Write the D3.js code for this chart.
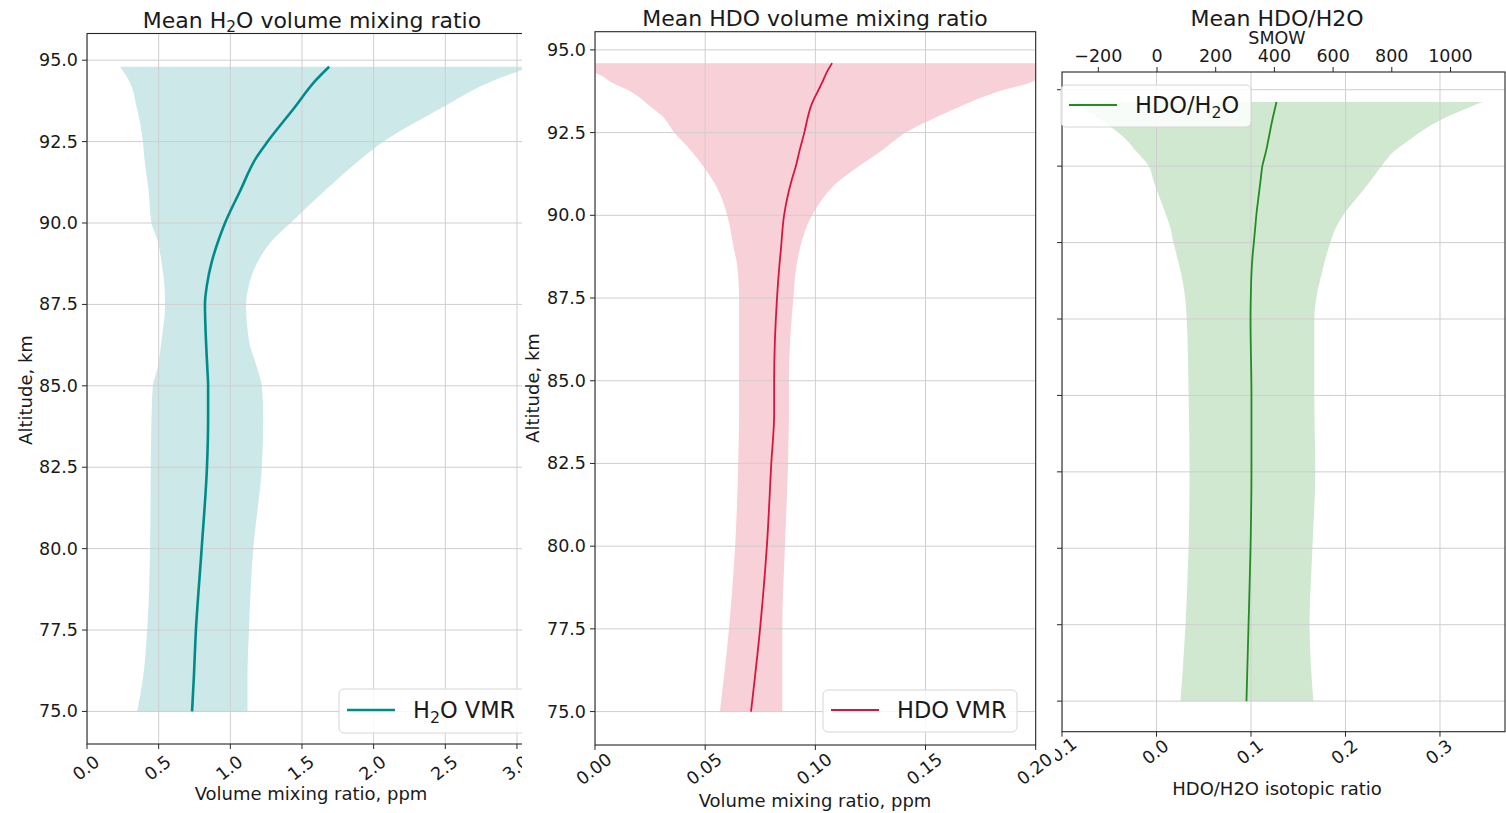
<!DOCTYPE html>
<html><head><meta charset="utf-8">
<script src="https://cdn.jsdelivr.net/npm/d3@7/dist/d3.min.js"></script>
<style>body{margin:0;background:#fff;} svg{display:block;font-family:"DejaVu Sans",sans-serif;}</style>
</head><body>
<svg id="c" width="1506" height="813"></svg>
<script>
// ---------------- DATA ----------------
const altTicks = [75.0, 77.5, 80.0, 82.5, 85.0, 87.5, 90.0, 92.5, 95.0];

// Panel 1: H2O VMR (ppm)
const h2oAlt   = [75, 76, 77.5, 80, 82.5, 84, 85, 85.5, 86.4, 87.5, 88.1, 88.8, 89.5, 90, 91, 92, 92.5, 93.5, 94.4, 94.8];
const h2oMean  = [0.733, 0.745, 0.76, 0.80, 0.837, 0.845, 0.845, 0.84, 0.83, 0.823, 0.837, 0.87, 0.92, 0.963, 1.07, 1.18, 1.26, 1.44, 1.60, 1.69];
const h2oLow   = [0.35, 0.39, 0.42, 0.44, 0.445, 0.45, 0.46, 0.49, 0.52, 0.545, 0.54, 0.52, 0.49, 0.45, 0.43, 0.40, 0.39, 0.35, 0.29, 0.23];
const h2oHigh  = [1.12, 1.12, 1.13, 1.16, 1.22, 1.23, 1.22, 1.19, 1.13, 1.11, 1.13, 1.19, 1.30, 1.42, 1.66, 1.92, 2.07, 2.46, 2.85, 3.10];
const h2oXTicks = [0.0, 0.5, 1.0, 1.5, 2.0, 2.5, 3.0];

// Panel 2: HDO VMR (ppm)
const hdoAlt   = [75, 77.5, 80, 82.5, 84, 85, 87.5, 88.5, 89, 90, 90.6, 91, 91.5, 92, 92.5, 93, 93.3, 93.8, 94, 94.3, 94.6];
const hdoMean  = [0.0708, 0.0749, 0.078, 0.080, 0.0813, 0.0813, 0.0826, 0.0837, 0.0844, 0.0858, 0.0875, 0.089, 0.0912, 0.093, 0.095, 0.0967, 0.098, 0.1015, 0.103, 0.105, 0.1076];
const hdoLow   = [0.0567, 0.0608, 0.0636, 0.065, 0.0654, 0.0654, 0.0654, 0.0645, 0.063, 0.060, 0.057, 0.054, 0.049, 0.043, 0.036, 0.0305, 0.025, 0.0145, 0.008, 0.0, -0.02];
const hdoHigh  = [0.085, 0.085, 0.0862, 0.0876, 0.088, 0.088, 0.090, 0.0915, 0.093, 0.0985, 0.1044, 0.110, 0.120, 0.131, 0.141, 0.156, 0.166, 0.186, 0.197, 0.205, 0.21];
const hdoXTicks = [0.00, 0.05, 0.10, 0.15, 0.20];

// Panel 3: HDO/H2O isotopic ratio
const ratAlt   = [75, 77.5, 80, 82.5, 85, 87.5, 88.5, 89, 89.5, 90, 90.5, 91, 91.5, 92, 92.5, 93, 93.3, 94, 94.6];
const ratMean  = [0.0952, 0.0974, 0.0995, 0.1005, 0.1005, 0.0995, 0.100, 0.1005, 0.1015, 0.103, 0.1045, 0.106, 0.108, 0.110, 0.112, 0.116, 0.118, 0.1225, 0.127];
const ratLow   = [0.0254, 0.0307, 0.0339, 0.035, 0.034, 0.032, 0.029, 0.026, 0.022, 0.018, 0.0145, 0.009, 0.003, -0.003, -0.008, -0.022, -0.030, -0.058, -0.089];
const ratHigh  = [0.166, 0.162, 0.165, 0.168, 0.167, 0.167, 0.171, 0.175, 0.179, 0.184, 0.190, 0.200, 0.213, 0.226, 0.238, 0.252, 0.265, 0.300, 0.345];
const ratXTicks = [-0.1, 0.0, 0.1, 0.2, 0.3];
const smowTicks = [-200, 0, 200, 400, 600, 800, 1000];

// ---------------- DRAW ----------------
const svg = d3.select("#c");
const GRID = "#cfcfcf", AX = "#262626";

// grey corner artefact
svg.append("polygon").attr("points","0,0 90,0 85,6 14,6 14,77 0,100").attr("fill","#dcdcdc");

function subText(sel, parts, size) {
  // parts: array of [text, isSub]
  parts.forEach(([t, sub], i) => {
    const ts = sel.append("tspan").text(t);
    if (sub) ts.attr("font-size", size*0.7).attr("dy", size*0.2);
    else if (i > 0 && parts[i-1][1]) ts.attr("dy", -size*0.2);
  });
}

function panel(o) {
  const defs = svg.append("defs");
  defs.append("clipPath").attr("id", o.id+"clip").append("rect")
    .attr("x", o.clip[0]).attr("y", 0).attr("width", o.clip[1]-o.clip[0]).attr("height", 813);
  defs.append("clipPath").attr("id", o.id+"plot").append("rect")
    .attr("x", o.x0).attr("y", o.y0).attr("width", o.x1-o.x0).attr("height", o.y1-o.y0);
  const g = svg.append("g").attr("clip-path", `url(#${o.id}clip)`);
  g.append("rect").attr("x", o.clip[0]).attr("y", 0).attr("width", o.clip[1]-o.clip[0]).attr("height", 813).attr("fill", "#fff");

  const x = d3.scaleLinear().domain(o.xdom).range([o.x0, o.x1]);
  const y = d3.scaleLinear().domain(o.ydom).range([o.y1, o.y0]);
  const pg = g.append("g").attr("clip-path", `url(#${o.id}plot)`);

  const idx = d3.range(o.alt.length);
  pg.append("path").datum(idx)
    .attr("d", d3.area().curve(d3.curveMonotoneY).y(i => y(o.alt[i])).x0(i => x(o.low[i])).x1(i => x(o.high[i])))
    .attr("fill", o.fill);

  // grid
  o.xticks.forEach(t => pg.append("line").attr("x1", x(t)).attr("x2", x(t)).attr("y1", o.y0).attr("y2", o.y1)
    .attr("stroke", GRID).attr("stroke-width", 1));
  o.yticks.forEach(t => pg.append("line").attr("x1", o.x0).attr("x2", o.x1).attr("y1", y(t)).attr("y2", y(t))
    .attr("stroke", GRID).attr("stroke-width", 1));

  pg.append("path").datum(idx)
    .attr("d", d3.line().curve(d3.curveMonotoneY).y(i => y(o.alt[i])).x(i => x(o.mean[i])))
    .attr("fill", "none").attr("stroke", o.color).attr("stroke-width", o.lw);

  // spines
  g.append("rect").attr("x", o.x0).attr("y", o.y0).attr("width", o.x1-o.x0).attr("height", o.y1-o.y0)
    .attr("fill", "none").attr("stroke", AX).attr("stroke-width", 1.1);

  // x axis ticks + labels
  o.xticks.forEach(t => {
    const xx = x(t);
    g.append("line").attr("x1", xx).attr("x2", xx).attr("y1", o.y1).attr("y2", o.y1+5).attr("stroke", AX);
    g.append("text").attr("x", xx-1).attr("y", o.xlabY).attr("text-anchor", "middle").attr("dominant-baseline","central")
      .attr("font-size", 17.5).attr("fill", "#1a1a1a")
      .attr("transform", `rotate(-38 ${xx-1} ${o.xlabY})`).text(o.xfmt(t));
  });
  // y ticks
  o.yticks.forEach(t => {
    g.append("line").attr("x1", o.x0-5).attr("x2", o.x0).attr("y1", y(t)).attr("y2", y(t)).attr("stroke", AX);
    if (o.ylabels) g.append("text").attr("x", o.x0-9).attr("y", y(t)).attr("text-anchor", "end").attr("dominant-baseline","central")
      .attr("font-size", 17.5).attr("fill", "#1a1a1a").text(t.toFixed(1));
  });
  // axis titles
  g.append("text").attr("x", o.xtitle[0]).attr("y", o.xtitle[1]).attr("text-anchor","middle").attr("dominant-baseline","central")
    .attr("font-size", 18).attr("fill", "#1a1a1a").text(o.xtitleText);
  if (o.ytitle) g.append("text").attr("transform", `translate(${o.ytitle[0]},${o.ytitle[1]}) rotate(-90)`)
    .attr("text-anchor","middle").attr("dominant-baseline","central").attr("font-size", 18).attr("fill", "#1a1a1a").text("Altitude, km");
  // title
  const tt = g.append("text").attr("x", o.title[0]).attr("y", o.title[1]).attr("text-anchor","middle")
    .attr("font-size", 22).attr("fill", "#1a1a1a");
  subText(tt, o.titleParts, 22);

  // legend
  const L = o.legend;
  g.append("rect").attr("x", L.x).attr("y", L.y).attr("width", L.w).attr("height", L.h).attr("rx", 5)
    .attr("fill", "#fff").attr("fill-opacity", 0.85).attr("stroke", "#d6d6d6");
  g.append("line").attr("x1", L.x+8).attr("x2", L.x+56).attr("y1", L.y+L.h/2-1).attr("y2", L.y+L.h/2-1)
    .attr("stroke", o.color).attr("stroke-width", o.lw);
  const lt = g.append("text").attr("x", L.x+74).attr("y", L.y+L.h/2+7).attr("font-size", 22.5).attr("fill", "#1a1a1a");
  subText(lt, L.parts, 22.5);
  return {g, x, y};
}

panel({
  id: "p1", clip: [0, 522], x0: 87, x1: 531, y0: 33.5, y1: 744,
  xdom: [0, 3.098], ydom: [74.0, 95.82],
  alt: h2oAlt, mean: h2oMean, low: h2oLow, high: h2oHigh,
  color: "#008b8b", fill: "#cce8e8", lw: 2.6,
  xticks: h2oXTicks, yticks: altTicks, ylabels: true, xfmt: d => d.toFixed(1), xlabY: 768,
  xtitle: [311, 793], xtitleText: "Volume mixing ratio, ppm", ytitle: [25, 390],
  title: [312, 28], titleParts: [["Mean H",false],["2",true],["O volume mixing ratio",false]],
  legend: {x: 339, y: 689, w: 200, h: 44, parts: [["H",false],["2",true],["O VMR",false]]}
});

panel({
  id: "p2", clip: [522, 1055], x0: 595, x1: 1035.7, y0: 31.7, y1: 745,
  xdom: [0, 0.2], ydom: [73.99, 95.55],
  alt: hdoAlt, mean: hdoMean, low: hdoLow, high: hdoHigh,
  color: "#dc143c", fill: "#f7d0d8", lw: 1.8,
  xticks: hdoXTicks, yticks: altTicks, ylabels: true, xfmt: d => d.toFixed(2), xlabY: 769,
  xtitle: [815, 800], xtitleText: "Volume mixing ratio, ppm", ytitle: [532, 388],
  title: [815, 26], titleParts: [["Mean HDO volume mixing ratio",false]],
  legend: {x: 823, y: 690, w: 194, h: 42, parts: [["HDO VMR",false]]}
});

const p3 = panel({
  id: "p3", clip: [1055, 1506], x0: 1062, x1: 1505, y0: 72, y1: 731.7,
  xdom: [-0.1, 0.3688], ydom: [74.0, 95.58],
  alt: ratAlt, mean: ratMean, low: ratLow, high: ratHigh,
  color: "#228b22", fill: "#d0e8d0", lw: 1.8,
  xticks: ratXTicks, yticks: altTicks, ylabels: false, xfmt: d => d.toFixed(1), xlabY: 752,
  xtitle: [1277, 788], xtitleText: "HDO/H2O isotopic ratio", ytitle: null,
  title: [1277, 26], titleParts: [["Mean HDO/H2O",false]],
  legend: {x: 1061, y: 85, w: 190, h: 42, parts: [["HDO/H",false],["2",true],["O",false]]}
});

// twin top axis (SMOW)
const smow = d3.scaleLinear().domain([-323.7, 1185.7]).range([1062, 1505]);
smowTicks.forEach(t => {
  p3.g.append("line").attr("x1", smow(t)).attr("x2", smow(t)).attr("y1", 72).attr("y2", 67).attr("stroke", AX);
  p3.g.append("text").attr("x", smow(t)).attr("y", 56).attr("text-anchor","middle").attr("dominant-baseline","central")
    .attr("font-size", 17.5).attr("fill", "#1a1a1a").text(t < 0 ? "\u2212" + Math.abs(t) : String(t));
});
p3.g.append("text").attr("x", 1277).attr("y", 38).attr("text-anchor","middle").attr("dominant-baseline","central")
  .attr("font-size", 17.5).attr("fill", "#1a1a1a").text("SMOW");
</script>
</body></html>
